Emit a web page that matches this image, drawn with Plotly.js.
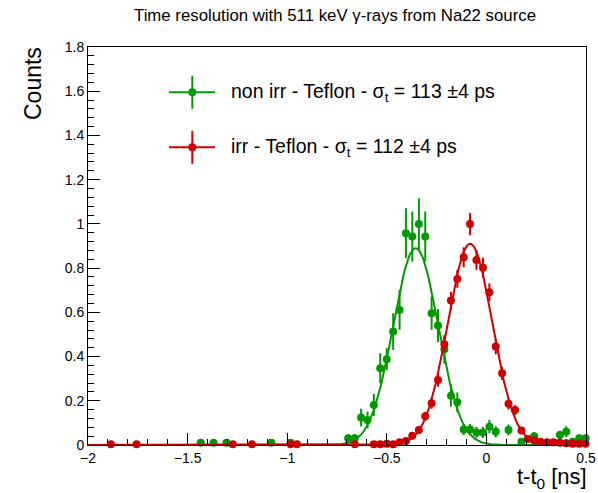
<!DOCTYPE html>
<html>
<head>
<meta charset="utf-8">
<script src="https://cdn.plot.ly/plotly-3.0.1.min.js"></script>
<style>html,body{margin:0;padding:0;background:#fff;}#chart{width:598px;height:493px;}</style>
</head>
<body>
<div id="chart"></div>
<script>
// ---- data ----
const greenT = [-1.434,-1.370,-1.305,-1.080,-0.983,
  -0.694,-0.661,-0.629,-0.597,-0.565,-0.533,-0.500,-0.468,-0.436,-0.404,-0.372,-0.339,-0.307,-0.275,-0.243,-0.211,-0.178,-0.146,-0.114,-0.082,-0.050,-0.017,
  0.015,0.047,0.111,0.176,0.240,0.369,0.401,0.433,0.466,0.498];
const greenCounts = [0.010,0.010,0.010,0.010,0.010,
  0.030,0.030,0.124,0.113,0.181,0.347,0.388,0.513,0.611,0.958,0.943,0.999,0.943,0.596,0.540,0.433,0.223,0.193,0.070,0.070,0.057,0.057,
  0.083,0.060,0.068,0.015,0.040,0.045,0.060,0.015,0.030,0.030];
const greenErr = [0.008,0.008,0.008,0.008,0.008,
  0.018,0.018,0.040,0.038,0.050,0.068,0.050,0.083,0.090,0.113,0.113,0.117,0.113,0.075,0.075,0.065,0.050,0.045,0.025,0.025,0.025,0.025,
  0.030,0.025,0.025,0.012,0.018,0.020,0.025,0.012,0.018,0.018];

const redT = [-1.885,-1.756,-1.273,-1.177,-0.983,-0.951,-0.661,
  -0.565,-0.533,-0.500,-0.468,-0.436,-0.404,-0.372,-0.339,-0.307,-0.275,-0.243,-0.211,-0.178,-0.146,-0.114,-0.082,-0.050,-0.017,
  0.015,0.047,0.079,0.111,0.144,0.176,0.208,0.240,0.272,0.305,0.337,0.369,0.401,0.433,0.466,0.498];
const redCounts = [0.003,0.003,0.003,0.003,0.003,0.003,0.003,
  0.003,0.003,0.006,0.003,0.012,0.018,0.042,0.068,0.130,0.189,0.294,0.456,0.653,0.751,0.849,0.999,0.837,0.802,
  0.691,0.445,0.324,0.186,0.158,0.066,0.027,0.020,0.015,0.012,0.012,0.010,0.008,0.006,0.006,0.006];
const redErr = [0.004,0.004,0.004,0.004,0.004,0.004,0.004,
  0.004,0.004,0.005,0.004,0.006,0.008,0.012,0.016,0.020,0.025,0.030,0.035,0.040,0.040,0.045,0.050,0.045,0.045,
  0.040,0.035,0.030,0.025,0.022,0.015,0.010,0.008,0.008,0.008,0.008,0.008,0.008,0.008,0.008,0.008];

// Gaussian fit parameters (amplitude, mean, sigma)
const greenFit = {amp: 0.89, mean: -0.355, sigma: 0.113};
const redFit   = {amp: 0.91, mean: -0.082, sigma: 0.112};

const xTickVals = [-2,-1.5,-1,-0.5,0,0.5];
const yTickVals = [0,0.2,0.4,0.6,0.8,1,1.2,1.4,1.6,1.8];

const titleText = "Time resolution with 511 keV \u03b3-rays from Na22 source";
const legendGreen = "non irr - Teflon - \u03c3<sub>t</sub> = 113 \u00b14 ps";
const legendRed = "irr - Teflon - \u03c3<sub>t</sub> = 112 \u00b14 ps";

const GREEN = '#009a00';
const RED = '#d00000';
const FONT = 'Liberation Sans, Arial, Helvetica, sans-serif';

function gaussCurve(p){
  const xs=[], ys=[];
  for(let i=0;i<=500;i++){
    const x=-2+2.5*i/500;
    xs.push(x);
    ys.push(p.amp*Math.exp(-0.5*Math.pow((x-p.mean)/p.sigma,2)));
  }
  return {xs, ys};
}
const gc = gaussCurve(greenFit), rc = gaussCurve(redFit);

const traces = [
  {x: greenT, y: greenCounts, type:'scatter', mode:'markers', cliponaxis:false,
   marker:{color:GREEN, size:8}, error_y:{type:'data', array:greenErr, color:GREEN, thickness:2, width:0}},
  {x: gc.xs, y: gc.ys, type:'scatter', mode:'lines', line:{color:GREEN, width:2}, cliponaxis:false},
  {x: redT, y: redCounts, type:'scatter', mode:'markers', cliponaxis:false,
   marker:{color:RED, size:8}, error_y:{type:'data', array:redErr, color:RED, thickness:2, width:0}},
  {x: rc.xs, y: rc.ys, type:'scatter', mode:'lines', line:{color:RED, width:2}, cliponaxis:false}
];

// plot-area geometry in pixels (for legend placement in paper units)
const L=88, R=586, T=47, B=445;
const px = v => (v-L)/(R-L);
const py = v => (B-v)/(B-T);

function legendEntry(color, cy){
  return [
    {type:'line', xref:'paper', yref:'paper', x0:px(169), x1:px(215), y0:py(cy), y1:py(cy), line:{color:color, width:2}},
    {type:'line', xref:'paper', yref:'paper', x0:px(192.3), x1:px(192.3), y0:py(cy-16.5), y1:py(cy+16.5), line:{color:color, width:2}},
    {type:'circle', xref:'paper', yref:'paper', x0:px(188.3), x1:px(196.3), y0:py(cy+4), y1:py(cy-4), fillcolor:color, line:{color:color, width:0}}
  ];
}

const layout = {
  width:598, height:493,
  margin:{l:L, r:598-R, t:T, b:493-B},
  paper_bgcolor:'#fff', plot_bgcolor:'#fff',
  showlegend:false,
  font:{family:FONT, color:'#000', size:14},
  xaxis:{range:[-2,0.5], tickvals:xTickVals, ticks:'inside', ticklen:12, tickwidth:1, tickcolor:'#000',
    showline:true, linecolor:'#000', linewidth:1, mirror:true, showgrid:false, zeroline:false,
    tickfont:{size:14, family:FONT},
    minor:{dtick:0.1, ticks:'inside', ticklen:6, tickcolor:'#000', showgrid:false}},
  yaxis:{range:[0,1.8], tickvals:yTickVals, ticks:'inside', ticklen:12, tickwidth:1, tickcolor:'#000',
    showline:true, linecolor:'#000', linewidth:1, mirror:true, showgrid:false, zeroline:false,
    tickfont:{size:14, family:FONT},
    minor:{dtick:0.04, ticks:'inside', ticklen:6, tickcolor:'#000', showgrid:false}},
  shapes: [].concat(legendEntry(GREEN, 92.3), legendEntry(RED, 147.3)),
  annotations:[
    {text:titleText, xref:'paper', yref:'paper', x:px(335), y:py(15), xanchor:'center', yanchor:'middle', showarrow:false, font:{size:16.8, family:FONT}},
    {text:'Counts', xref:'paper', yref:'paper', x:px(32.5), y:py(83.5), xanchor:'center', yanchor:'middle', textangle:-90, showarrow:false, font:{size:23, family:FONT}},
    {text:'t-t<sub>0</sub> [ns]', xref:'paper', yref:'paper', x:px(589), y:py(478), xanchor:'right', yanchor:'middle', showarrow:false, font:{size:22, family:FONT}},
    {text:legendGreen, xref:'paper', yref:'paper', x:px(229), y:py(92.3), xanchor:'left', yanchor:'middle', showarrow:false, font:{size:19.5, family:FONT}},
    {text:legendRed, xref:'paper', yref:'paper', x:px(229), y:py(147.3), xanchor:'left', yanchor:'middle', showarrow:false, font:{size:19.5, family:FONT}}
  ]
};

Plotly.newPlot('chart', traces, layout, {staticPlot:true, displayModeBar:false});
</script>
</body>
</html>
